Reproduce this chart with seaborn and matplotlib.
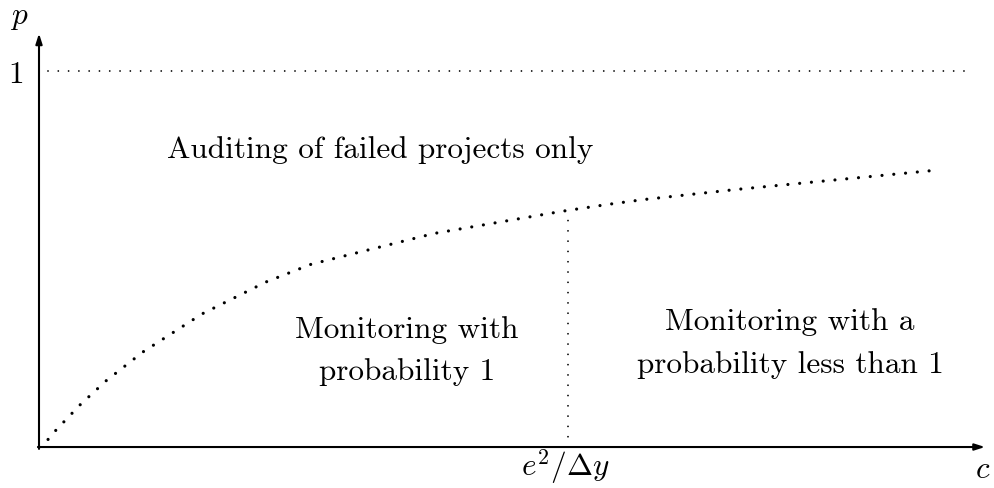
import matplotlib
matplotlib.use("Agg")
import matplotlib.pyplot as plt
import seaborn as sns
import pandas as pd

# data (c in arbitrary units, p in [0,1])
c_vals = [0.0, 0.09, 0.17, 0.41, 0.67, 1.04, 1.63, 2.27, 2.72, 3.95, 5.23, 5.68, 6.04, 6.97, 8.96]
p_vals = [0.0, 0.020, 0.045, 0.112, 0.176, 0.253, 0.354, 0.439, 0.486, 0.568, 0.627, 0.645, 0.658, 0.685, 0.736]
c_threshold = 5.29
threshold_label = r"$e^2/\Delta y$"
region_labels = ["Auditing of failed projects only",
                 "Monitoring with\nprobability 1",
                 "Monitoring with a\nprobability less than 1"]

sns.set_theme(style="white")
plt.rcParams["font.family"] = ["cmr10", "DejaVu Serif"]
plt.rcParams["mathtext.fontset"] = "cm"
plt.rcParams["axes.formatter.use_mathtext"] = True
plt.rcParams["lines.scale_dashes"] = False
plt.rcParams["text.color"] = "black"

fig = plt.figure(figsize=(9.95, 4.88), dpi=100)
ax = fig.add_axes([0, 0, 1, 1])
ax.set_xlim(-0.39, 9.56)
ax.set_ylim(-0.109, 1.189)
ax.axis("off")

df = pd.DataFrame({"c": c_vals, "p": p_vals})
sns.lineplot(data=df, x="c", y="p", ax=ax, color="black", linewidth=2.3,
             linestyle=(0, (0.01, 8.5)), dash_capstyle="round", sort=True)

# p = 1 dotted line
ax.plot([0.09, 9.3], [1.0, 1.0], color="black", linewidth=1.3,
        linestyle=(0, (0.01, 7.4)), dash_capstyle="round")
# threshold vertical dotted line
ax.plot([c_threshold, c_threshold], [0.0, p_vals[11] - 0.03], color="black", linewidth=1.3,
        linestyle=(0, (0.01, 7.4)), dash_capstyle="round")

# axes with arrows
ax.annotate("", xy=(9.46, 0), xytext=(-0.01, 0),
            arrowprops=dict(arrowstyle="-|>,head_length=0.5,head_width=0.16",
                            color="black", lw=1.5, shrinkA=0, shrinkB=0))
ax.annotate("", xy=(0, 1.10), xytext=(0, -0.005),
            arrowprops=dict(arrowstyle="-|>,head_length=0.5,head_width=0.16",
                            color="black", lw=1.5, shrinkA=0, shrinkB=0))

fs = 22.5
ax.text(-0.195, 1.14, r"$p$", fontsize=fs, ha="center", va="center")
ax.text(-0.23, 0.99, "1", fontsize=fs, ha="center", va="center")
ax.text(9.44, -0.06, r"$c$", fontsize=fs, ha="center", va="center")
ax.text(c_threshold - 0.03, -0.055, threshold_label, fontsize=fs, ha="center", va="center")

ax.text(3.41, 0.79, region_labels[0], fontsize=fs, ha="center", va="center")
ax.text(3.68, 0.256, region_labels[1], fontsize=fs, ha="center", va="center",
        linespacing=1.66)
ax.text(7.51, 0.275, region_labels[2], fontsize=fs, ha="center", va="center",
        linespacing=1.66)

fig.savefig("out.png", dpi=100)
